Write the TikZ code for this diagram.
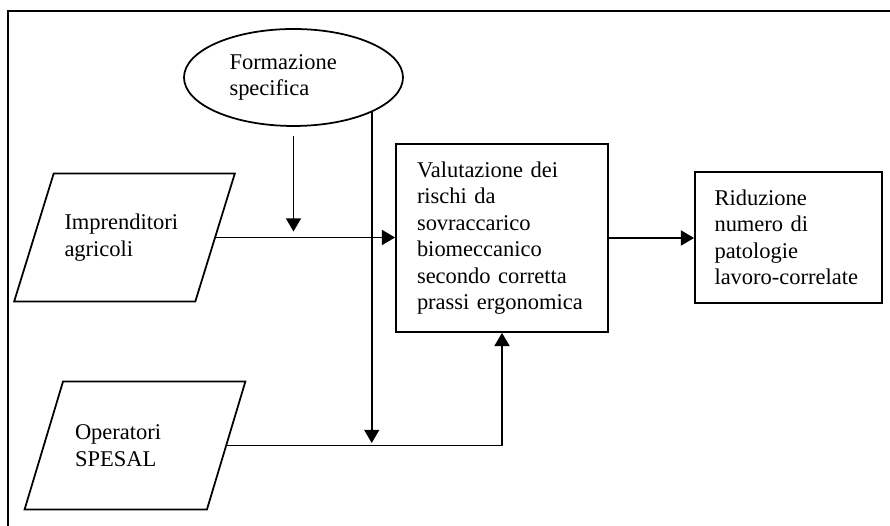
\documentclass[tikz,border=0pt]{standalone}
\usepackage{fontspec}
\setmainfont{Liberation Serif}
\usetikzlibrary{shapes.geometric,arrows.meta}

\begin{document}
\begin{tikzpicture}[
    font=\fontsize{12.8}{15.1}\selectfont,
    inbox/.style={draw, line width=1pt, trapezium, trapezium left angle=75,
        trapezium right angle=105, trapezium stretches=true,
        minimum width=4.42cm, minimum height=2.56cm, text width=2.4cm, align=left,
        inner xsep=0pt, inner ysep=0.78cm},
    stepbox/.style={draw, line width=1pt, rectangle, align=left, inner sep=0pt},
    flow/.style={line width=1.1pt, -{Triangle[length=7.5pt,width=8.5pt]}}
]
                \useasboundingbox (0,0) rectangle (17.8,10.52);
                \draw[line width=1.1pt] (0.16,0) -- (0.16,10.3) -- (17.8,10.3);

                \node[draw, line width=1pt, ellipse, minimum width=4.38cm, minimum height=1.94cm,
                    text width=2.56cm, align=left, inner sep=0pt] (form) at (5.87,8.97) {Formazione\\specifica};

                \node[inbox] (impr) at (2.49,5.77) {Imprenditori\\agricoli};
                \node[inbox] (oper) at (2.70,1.61) {Operatori\\SPESAL};

                \node[stepbox, minimum width=4.24cm, minimum height=3.76cm, text width=3.4cm] (valut) at (10.04,5.76)
                    {Valutazione dei\\rischi da\\sovraccarico\\biomeccanico\\secondo corretta\\prassi ergonomica};
                \node[stepbox, minimum width=3.74cm, minimum height=2.62cm, text width=2.96cm] (ridu) at (15.77,5.77)
                    {Riduzione\\numero di\\patologie\\lavoro-correlate};

                \coordinate (drop1) at ([yshift=0.12cm]form.south |- impr.east);
                \coordinate (drop2) at ([yshift=0.05cm]form.-24 |- oper.east);

                \draw[flow] ([yshift=-0.18cm]form.south) -- (drop1);
                \draw[flow] (form.-24) -- (drop2);
                \draw[flow] (impr.east) -- (impr.east -| valut.west);
                \draw[flow] (oper.east) -| (valut.south);
                \draw[flow] (valut.east) -- (valut.east -| ridu.west);
            %   \draw (form) -- (valut);
            \end{tikzpicture}
\end{document}
